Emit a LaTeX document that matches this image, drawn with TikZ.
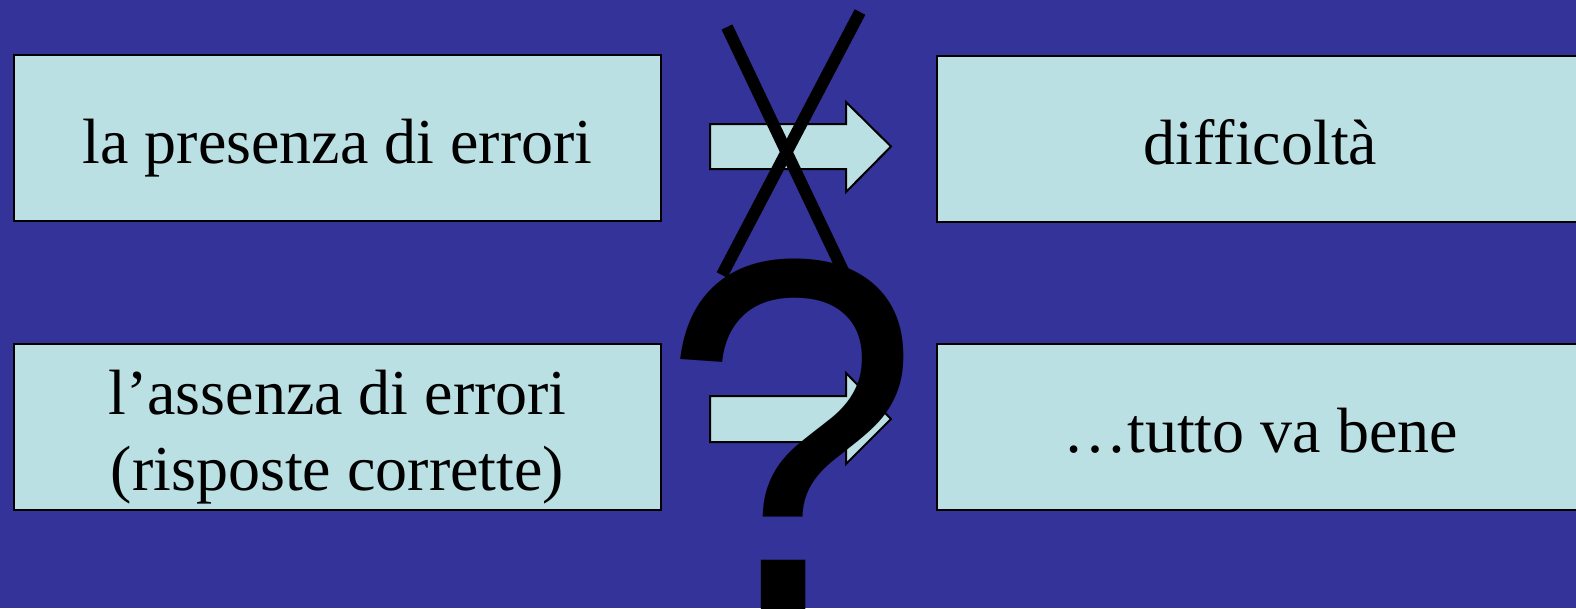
\documentclass[tikz,border=0pt]{standalone}
\usepackage{fontspec}
\usetikzlibrary{calc}
\setmainfont{Liberation Serif}
\newfontfamily\qfont{Liberation Sans}
\definecolor{bgblue}{HTML}{333399}
\definecolor{boxfill}{HTML}{BBE0E3}
\tikzset{
  box/.style={draw=black, line width=2pt, fill=boxfill, minimum width=647pt, minimum height=166pt, inner sep=0pt},
  boxtext/.style={anchor=base, inner sep=0pt, font=\fontsize{64}{76}\selectfont},
  blockarrow/.style={draw=black, line width=2pt, fill=boxfill, line join=miter},
  xline/.style={draw=black, line width=12pt, line cap=butt}
}
\begin{document}
\begin{tikzpicture}[x=1pt, y=-1pt]
\useasboundingbox (0,0) rectangle (1576,608);
\clip (0,0) rectangle (1576,608);
\fill[bgblue] (0,0) rectangle (1576,608);
\node[box] (b1) at (337.5,138) {};
\node[box] (b2) at (337.5,427) {};
\node[box] (b3) at (1260.5,139) {};
\node[box] (b4) at (1260.5,427) {};
\node[boxtext] (t1) at ($(b1.center)+(0,25)$) {la presenza di errori};
\node[boxtext] (t2a) at ($(b2.center)+(0,-13)$) {l’assenza di errori};
\node[boxtext] (t2b) at ($(b2.center)+(0,63)$) {(risposte corrette)};
\node[boxtext] (t3) at ($(b3.center)+(0,25)$) {difficoltà};
\node[boxtext] (t4) at ($(b4.center)+(0,25)$) {…tutto va bene};
\draw[blockarrow] (710,124) -- (846,124) -- (846,102) -- (891,146.5) -- (846,192) -- (846,169) -- (710,169) -- cycle;
\draw[blockarrow] (710,396) -- (846,396) -- (846,373) -- (891,419) -- (846,464) -- (846,442) -- (710,442) -- cycle;
\coordinate (xa1) at (727,27);
\coordinate (xa2) at (845,275);
\coordinate (xb1) at (860,12);
\coordinate (xb2) at (722,275);
\draw[xline] (xa1) -- (xa2);
\draw[xline] (xb1) -- (xb2);
\node[anchor=base, inner sep=0pt, xscale=0.93, font=\qfont\fontsize{502}{502}\selectfont, text=black] (q) at (791,609) {?};
\end{tikzpicture}
\end{document}
